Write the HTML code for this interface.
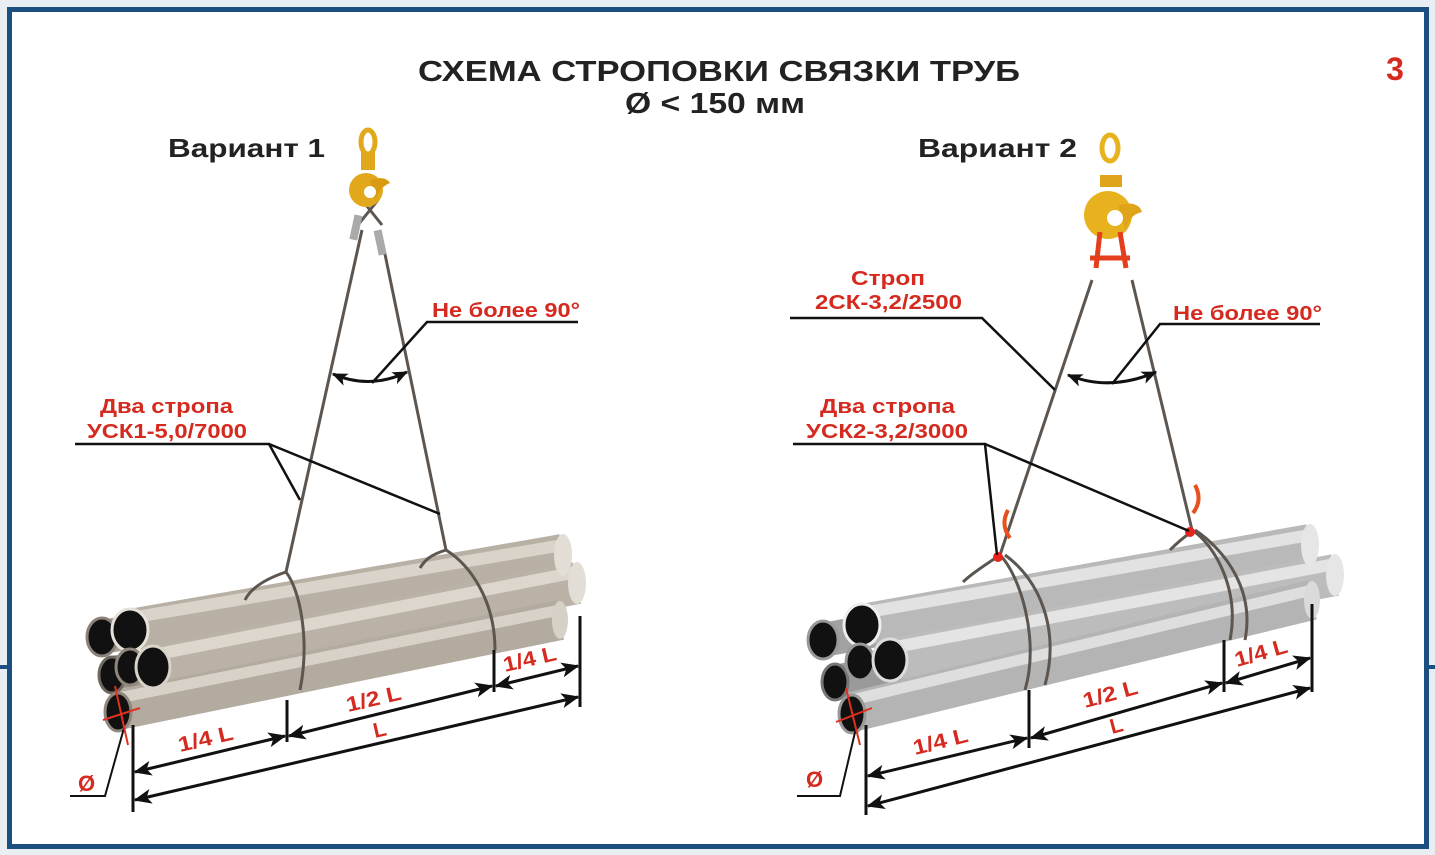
<!DOCTYPE html>
<html><head><meta charset="utf-8">
<style>
html,body{margin:0;padding:0;background:#e9eef2;}
svg{display:block;}
text{font-family:"Liberation Sans",Arial,sans-serif;font-weight:bold;}
</style></head><body>
<svg width="1435" height="855" viewBox="0 0 1435 855" xmlns="http://www.w3.org/2000/svg">
<defs>
<marker id="ar" viewBox="0 0 12 10" refX="11" refY="5" markerWidth="16" markerHeight="13" orient="auto-start-reverse" markerUnits="userSpaceOnUse">
<path d="M0,0 L12,5 L0,10 L3,5 Z" fill="#111"/></marker>
<marker id="ar2" viewBox="0 0 12 10" refX="11" refY="5" markerWidth="20" markerHeight="15" orient="auto-start-reverse" markerUnits="userSpaceOnUse">
<path d="M0,0 L12,5 L0,10 L3,5 Z" fill="#111"/></marker>
</defs>
<rect x="0" y="0" width="1435" height="855" fill="#e9eef2"/>
<rect x="9.5" y="9.5" width="1417" height="837" fill="#fff" stroke="#1b4f80" stroke-width="5"/>
<rect x="0" y="665" width="8" height="4" fill="#1b4f80"/>
<rect x="1429" y="665" width="6" height="4" fill="#1b4f80"/>

<!-- titles -->
<text x="418" y="81" font-size="29" textLength="602" lengthAdjust="spacingAndGlyphs" fill="#222">СХЕМА СТРОПОВКИ СВЯЗКИ ТРУБ</text>
<text x="625" y="113" font-size="29" textLength="180" lengthAdjust="spacingAndGlyphs" fill="#222">Ø &lt; 150 мм</text>
<text x="1395" y="80" font-size="32" text-anchor="middle" fill="#d42a1f">3</text>
<text x="168" y="157" font-size="26" textLength="157" lengthAdjust="spacingAndGlyphs" fill="#222">Вариант 1</text>
<text x="918" y="157" font-size="26" textLength="159" lengthAdjust="spacingAndGlyphs" fill="#222">Вариант 2</text>

<!-- ================= LEFT BUNDLE ================= -->
<g stroke-linecap="butt">
 <line x1="102" y1="637" x2="545" y2="560" stroke="#a9a196" stroke-width="34"/>
 <line x1="130" y1="630" x2="563" y2="555" stroke="#b8b0a4" stroke-width="42"/>
 <line x1="130" y1="618" x2="563" y2="545" stroke="#d9d3ca" stroke-width="12"/>
 <line x1="112" y1="673" x2="560" y2="600" stroke="#9e968b" stroke-width="34"/>
 <line x1="153" y1="667" x2="577" y2="583" stroke="#bab2a6" stroke-width="42"/>
 <line x1="153" y1="655" x2="577" y2="572" stroke="#dcd6cd" stroke-width="12"/>
 <line x1="118" y1="710" x2="560" y2="620" stroke="#b3ab9f" stroke-width="40"/>
 <line x1="118" y1="698" x2="560" y2="610" stroke="#d7d1c8" stroke-width="11"/>
</g>
<ellipse cx="563" cy="555" rx="9" ry="21" fill="#e2ddd5"/>
<ellipse cx="577" cy="583" rx="9" ry="21" fill="#e2ddd5"/>
<ellipse cx="560" cy="620" rx="8" ry="19" fill="#d6d0c7"/>
<ellipse cx="102" cy="637" rx="15" ry="19" fill="#111" stroke="#8a8278" stroke-width="3"/>
<ellipse cx="130" cy="630" rx="18" ry="21" fill="#111" stroke="#e6e1d9" stroke-width="3"/>
<ellipse cx="112" cy="675" rx="13" ry="18" fill="#111" stroke="#6f685f" stroke-width="3"/>
<ellipse cx="130" cy="667" rx="14" ry="18" fill="#111" stroke="#8f877c" stroke-width="3"/>
<ellipse cx="153" cy="667" rx="17" ry="21" fill="#111" stroke="#d8d2c8" stroke-width="3"/>
<ellipse cx="118" cy="712" rx="13" ry="19" fill="#111" stroke="#8f877c" stroke-width="3"/>

<!-- left slings -->
<g fill="none" stroke="#5d5650" stroke-width="3">
 <line x1="362" y1="230" x2="286" y2="572"/>
 <line x1="380" y1="230" x2="446" y2="550"/>
 <path d="M286,572 C300,590 310,640 300,690"/>
 <path d="M286,572 C262,580 250,590 245,600"/>
 <path d="M446,550 C470,565 495,600 495,650"/>
 <path d="M446,550 C430,555 425,560 420,568"/>
 <path d="M358,225 L378,200 M382,225 L362,200"/>
</g>
<rect x="352" y="215" width="8" height="25" fill="#aaa" transform="rotate(12 356 227)"/>
<rect x="376" y="230" width="8" height="25" fill="#aaa" transform="rotate(-12 380 242)"/>
<ellipse cx="368" cy="142" rx="7" ry="12" fill="none" stroke="#e2a81b" stroke-width="5"/>
<rect x="361" y="152" width="14" height="18" fill="#e2a81b"/>
<circle cx="366" cy="190" r="17" fill="#e2a81b"/>
<path d="M370,180 Q385,175 390,183 Q378,188 376,200 Z" fill="#d99a12"/>
<circle cx="370" cy="192" r="6" fill="#fff"/>

<path d="M333,374 Q370,390 407,372" fill="none" stroke="#111" stroke-width="3" marker-start="url(#ar)" marker-end="url(#ar)"/>
<polyline points="372,383 427,322 578,322" fill="none" stroke="#111" stroke-width="2.5"/>
<text x="432" y="317" font-size="20" textLength="148" lengthAdjust="spacingAndGlyphs" fill="#d42a1f">Не более 90°</text>

<text x="100" y="413" font-size="20" textLength="133" lengthAdjust="spacingAndGlyphs" fill="#d42a1f">Два стропа</text>
<text x="87" y="438" font-size="20" textLength="160" lengthAdjust="spacingAndGlyphs" fill="#d42a1f">УСК1-5,0/7000</text>
<polyline points="75,444 269,444 300,500" fill="none" stroke="#111" stroke-width="2.5"/>
<line x1="269" y1="444" x2="440" y2="514" stroke="#111" stroke-width="2.5"/>

<g stroke="#111" stroke-width="3" fill="none">
 <line x1="133" y1="725" x2="133" y2="812"/>
 <line x1="287" y1="700" x2="287" y2="742"/>
 <line x1="494" y1="650" x2="494" y2="692"/>
 <line x1="580" y1="616" x2="580" y2="707"/>
 <line x1="135" y1="772" x2="285" y2="736" marker-start="url(#ar2)" marker-end="url(#ar2)"/>
 <line x1="289" y1="736" x2="492" y2="686" marker-start="url(#ar2)" marker-end="url(#ar2)"/>
 <line x1="496" y1="686" x2="578" y2="666" marker-start="url(#ar2)" marker-end="url(#ar2)"/>
 <line x1="135" y1="800" x2="578" y2="697" marker-start="url(#ar2)" marker-end="url(#ar2)"/>
</g>
<g font-size="21" fill="#d42a1f">
 <text x="180" y="752" transform="rotate(-13 180 752)" textLength="56" lengthAdjust="spacingAndGlyphs">1/4 L</text>
 <text x="348" y="712" transform="rotate(-13 348 712)" textLength="56" lengthAdjust="spacingAndGlyphs">1/2 L</text>
 <text x="375" y="738" transform="rotate(-13 375 738)">L</text>
 <text x="505" y="672" transform="rotate(-13 505 672)" textLength="54" lengthAdjust="spacingAndGlyphs">1/4 L</text>
 <text x="78" y="791" font-size="22">Ø</text>
</g>
<polyline points="70,796 105,796 124,728" fill="none" stroke="#111" stroke-width="2"/>
<line x1="103" y1="720" x2="140" y2="708" stroke="#e03020" stroke-width="2"/>
<line x1="115" y1="686" x2="128" y2="745" stroke="#e03020" stroke-width="2"/>

<!-- ================= RIGHT BUNDLE ================= -->
<g stroke-linecap="butt">
 <line x1="823" y1="640" x2="1295" y2="552" stroke="#a2a2a2" stroke-width="34"/>
 <line x1="862" y1="625" x2="1310" y2="545" stroke="#b9b9b9" stroke-width="42"/>
 <line x1="862" y1="613" x2="1310" y2="535" stroke="#e2e2e2" stroke-width="12"/>
 <line x1="835" y1="682" x2="1310" y2="590" stroke="#9a9a9a" stroke-width="34"/>
 <line x1="890" y1="660" x2="1335" y2="575" stroke="#bcbcbc" stroke-width="42"/>
 <line x1="890" y1="648" x2="1335" y2="564" stroke="#e4e4e4" stroke-width="12"/>
 <line x1="852" y1="712" x2="1312" y2="600" stroke="#b4b4b4" stroke-width="40"/>
 <line x1="852" y1="700" x2="1312" y2="590" stroke="#dedede" stroke-width="11"/>
</g>
<ellipse cx="1310" cy="545" rx="9" ry="21" fill="#e6e6e6"/>
<ellipse cx="1335" cy="575" rx="9" ry="21" fill="#e6e6e6"/>
<ellipse cx="1312" cy="600" rx="8" ry="19" fill="#dadada"/>
<ellipse cx="823" cy="640" rx="15" ry="19" fill="#111" stroke="#999" stroke-width="3"/>
<ellipse cx="862" cy="625" rx="18" ry="21" fill="#111" stroke="#eee" stroke-width="3"/>
<ellipse cx="835" cy="682" rx="13" ry="18" fill="#111" stroke="#777" stroke-width="3"/>
<ellipse cx="860" cy="662" rx="14" ry="18" fill="#111" stroke="#999" stroke-width="3"/>
<ellipse cx="890" cy="660" rx="17" ry="21" fill="#111" stroke="#ddd" stroke-width="3"/>
<ellipse cx="852" cy="714" rx="13" ry="19" fill="#111" stroke="#999" stroke-width="3"/>

<g fill="none" stroke="#5d5650" stroke-width="3">
 <line x1="1092" y1="280" x2="1000" y2="555"/>
 <line x1="1132" y1="280" x2="1192" y2="530"/>
 <path d="M1000,555 C1020,575 1040,640 1025,690"/>
 <path d="M1005,555 C1040,580 1060,630 1045,685"/>
 <path d="M1000,555 C985,565 970,575 963,582"/>
 <path d="M1192,530 C1215,545 1240,590 1230,640"/>
 <path d="M1195,530 C1225,550 1255,590 1245,640"/>
 <path d="M1190,533 C1180,540 1175,545 1170,550"/>
</g>
<path d="M1008,510 q-8,15 2,28 M1195,485 q8,15 -2,28" fill="none" stroke="#e8501e" stroke-width="4"/>
<circle cx="998" cy="557" r="5" fill="#e8251c"/>
<circle cx="1190" cy="532" r="5" fill="#e8251c"/>
<ellipse cx="1110" cy="148" rx="8" ry="13" fill="none" stroke="#e8b21f" stroke-width="5"/>
<rect x="1100" y="175" width="22" height="12" fill="#e0a41a"/>
<circle cx="1108" cy="215" r="24" fill="#e8b21f"/>
<path d="M1118,205 Q1138,200 1142,212 Q1128,215 1126,232 Z" fill="#e0a41a"/>
<circle cx="1115" cy="218" r="8" fill="#fff"/>
<path d="M1100,232 L1096,268 M1120,232 L1126,268 M1090,258 L1130,258" fill="none" stroke="#e33f1c" stroke-width="5"/>

<path d="M1068,375 Q1110,392 1156,372" fill="none" stroke="#111" stroke-width="3" marker-start="url(#ar)" marker-end="url(#ar)"/>
<polyline points="1112,384 1160,324 1320,324" fill="none" stroke="#111" stroke-width="2.5"/>
<text x="1173" y="320" font-size="20" textLength="149" lengthAdjust="spacingAndGlyphs" fill="#d42a1f">Не более 90°</text>

<text x="851" y="285" font-size="20" textLength="74" lengthAdjust="spacingAndGlyphs" fill="#d42a1f">Строп</text>
<text x="815" y="309" font-size="20" textLength="147" lengthAdjust="spacingAndGlyphs" fill="#d42a1f">2СК-3,2/2500</text>
<polyline points="790,318 982,318 1055,390" fill="none" stroke="#111" stroke-width="2.5"/>

<text x="820" y="413" font-size="20" textLength="135" lengthAdjust="spacingAndGlyphs" fill="#d42a1f">Два стропа</text>
<text x="806" y="438" font-size="20" textLength="162" lengthAdjust="spacingAndGlyphs" fill="#d42a1f">УСК2-3,2/3000</text>
<polyline points="793,444 985,444 997,555" fill="none" stroke="#111" stroke-width="2.5"/>
<line x1="985" y1="444" x2="1189" y2="531" stroke="#111" stroke-width="2.5"/>

<g stroke="#111" stroke-width="3" fill="none">
 <line x1="866" y1="725" x2="866" y2="815"/>
 <line x1="1029" y1="690" x2="1029" y2="748"/>
 <line x1="1224" y1="640" x2="1224" y2="692"/>
 <line x1="1312" y1="604" x2="1312" y2="692"/>
 <line x1="868" y1="776" x2="1027" y2="738" marker-start="url(#ar2)" marker-end="url(#ar2)"/>
 <line x1="1031" y1="738" x2="1222" y2="683" marker-start="url(#ar2)" marker-end="url(#ar2)"/>
 <line x1="1226" y1="683" x2="1310" y2="658" marker-start="url(#ar2)" marker-end="url(#ar2)"/>
 <line x1="868" y1="806" x2="1310" y2="688" marker-start="url(#ar2)" marker-end="url(#ar2)"/>
</g>
<g font-size="21" fill="#d42a1f">
 <text x="915" y="755" transform="rotate(-14 915 755)" textLength="56" lengthAdjust="spacingAndGlyphs">1/4 L</text>
 <text x="1085" y="708" transform="rotate(-15 1085 708)" textLength="56" lengthAdjust="spacingAndGlyphs">1/2 L</text>
 <text x="1112" y="734" transform="rotate(-15 1112 734)">L</text>
 <text x="1237" y="667" transform="rotate(-16 1237 667)" textLength="54" lengthAdjust="spacingAndGlyphs">1/4 L</text>
 <text x="806" y="787" font-size="22">Ø</text>
</g>
<polyline points="797,796 840,796 856,728" fill="none" stroke="#111" stroke-width="2"/>
<line x1="836" y1="722" x2="872" y2="708" stroke="#e03020" stroke-width="2"/>
<line x1="846" y1="688" x2="860" y2="745" stroke="#e03020" stroke-width="2"/>
</svg>
</body></html>
